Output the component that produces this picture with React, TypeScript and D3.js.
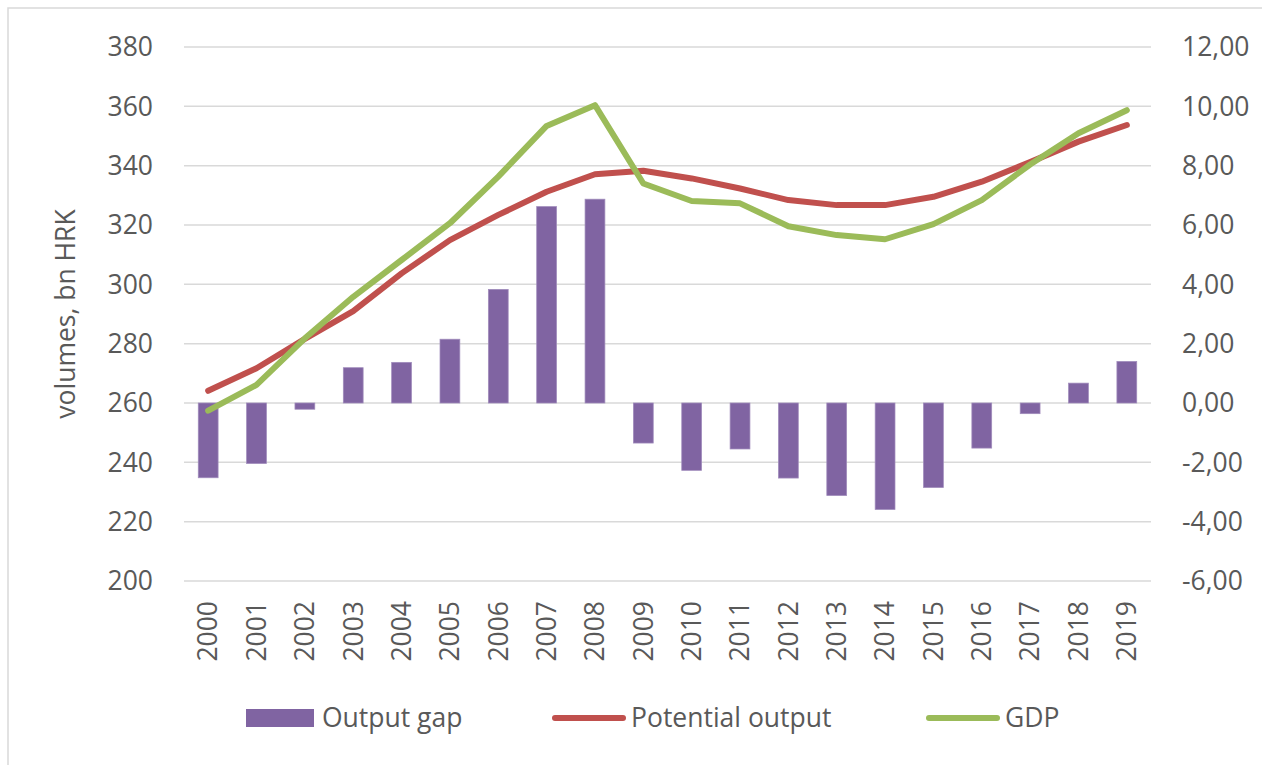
import React, { useEffect } from 'react';
import * as d3 from 'd3';

const years = ['2000', '2001', '2002', '2003', '2004', '2005', '2006', '2007', '2008', '2009',
  '2010', '2011', '2012', '2013', '2014', '2015', '2016', '2017', '2018', '2019'];

// output gap, % (right axis)
const outputGap = [-2.52, -2.04, -0.21, 1.19, 1.37, 2.15, 3.83, 6.62, 6.87, -1.35,
  -2.27, -1.55, -2.53, -3.12, -3.59, -2.85, -1.52, -0.36, 0.67, 1.40];

// bn HRK (left axis)
const potentialOutput = [264.1, 271.7, 281.6, 291.0, 303.7, 314.9, 323.4, 331.2, 337.1, 338.3,
  335.7, 332.3, 328.4, 326.7, 326.7, 329.5, 334.6, 341.2, 348.1, 353.7];
const gdp = [257.4, 266.1, 281.8, 295.8, 308.2, 320.6, 336.3, 353.4, 360.4, 334.0,
  328.1, 327.3, 319.6, 316.6, 315.2, 320.3, 328.4, 340.4, 350.9, 358.7];

const leftTicks = [200, 220, 240, 260, 280, 300, 320, 340, 360, 380];
const rightTicks = [-6, -4, -2, 0, 2, 4, 6, 8, 10, 12];

const FONT = '"Open Sans", sans-serif';
const FS = 26.5;
const TEXT = '#595959';
const GRID = '#d9d9d9';
const PURPLE = '#8064a2';
const RED = '#c0504d';
const GREEN = '#9bbb59';

const W = 1262;
const H = 765;
const plot = { left: 184, right: 1151, top: 47, bottom: 581 };

const App: React.FC = () => {
  useEffect(() => {
    document.body.style.margin = '0';
  }, []);

  const x = d3.scaleBand<string>().domain(years).range([plot.left, plot.right]).paddingInner(0.59).paddingOuter(0.295);
  const xc = (y: string) => (x(y) ?? 0) + x.bandwidth() / 2;
  const yL = d3.scaleLinear().domain([200, 380]).range([plot.bottom, plot.top]);
  const yR = d3.scaleLinear().domain([-6, 12]).range([plot.bottom, plot.top]);

  const lineL = d3.line<number>().x((_, i) => xc(years[i])).y((d) => yL(d));

  return (
    <svg width={W} height={H} style={{ display: 'block' }} fontFamily={FONT}>
      <rect x={0} y={0} width={W} height={H} fill="#fff" />
      <rect x={8} y={8} width={W} height={H} fill="none" stroke={GRID} strokeWidth={1.5} />

      {/* gridlines */}
      {leftTicks.map((t) => (
        <line key={t} x1={plot.left} x2={plot.right} y1={yL(t)} y2={yL(t)} stroke={GRID} strokeWidth={1.5} />
      ))}

      {/* left axis labels */}
      {leftTicks.map((t) => (
        <text key={t} x={153} y={yL(t)} dy="0.35em" textAnchor="end" fontSize={FS} fill={TEXT}>{t}</text>
      ))}

      {/* right axis labels */}
      {rightTicks.map((t) => (
        <text key={t} x={1182} y={yR(t)} dy="0.35em" textAnchor="start" fontSize={FS} fill={TEXT}>
          {d3.format('.2f')(t).replace('.', ',').replace('−', '-')}
        </text>
      ))}

      <text transform={`translate(66,${(plot.top + plot.bottom) / 2}) rotate(-90)`} dy="0.35em"
        textAnchor="middle" fontSize={FS} fill={TEXT}>volumes, bn HRK</text>

      {/* bars */}
      {outputGap.map((v, i) => (
        <rect key={years[i]} x={x(years[i])} width={x.bandwidth()}
          y={Math.min(yR(v), yR(0))} height={Math.abs(yR(v) - yR(0))}
          fill={PURPLE} stroke="#a08cbc" strokeWidth={0.75} />
      ))}

      {/* lines */}
      <path d={lineL(potentialOutput) ?? ''} fill="none" stroke={RED} strokeWidth={6}
        strokeLinecap="round" strokeLinejoin="round" />
      <path d={lineL(gdp) ?? ''} fill="none" stroke={GREEN} strokeWidth={6}
        strokeLinecap="round" strokeLinejoin="round" />

      {/* x labels */}
      {years.map((y) => (
        <text key={y} transform={`translate(${xc(y)},601) rotate(-90)`} dy="0.35em" textAnchor="end"
          fontSize={FS} fill={TEXT}>{y}</text>
      ))}

      {/* legend */}
      <rect x={246} y={709} width={68} height={18} fill={PURPLE} />
      <text x={322} y={718} dy="0.35em" fontSize={FS} fill={TEXT}>Output gap</text>
      <line x1={555} x2={623} y1={718} y2={718} stroke={RED} strokeWidth={6} strokeLinecap="round" />
      <text x={631} y={718} dy="0.35em" fontSize={FS} fill={TEXT}>Potential output</text>
      <line x1={929} x2={997} y1={718} y2={718} stroke={GREEN} strokeWidth={6} strokeLinecap="round" />
      <text x={1005} y={718} dy="0.35em" fontSize={FS} fill={TEXT}>GDP</text>
    </svg>
  );
};

export default App;
